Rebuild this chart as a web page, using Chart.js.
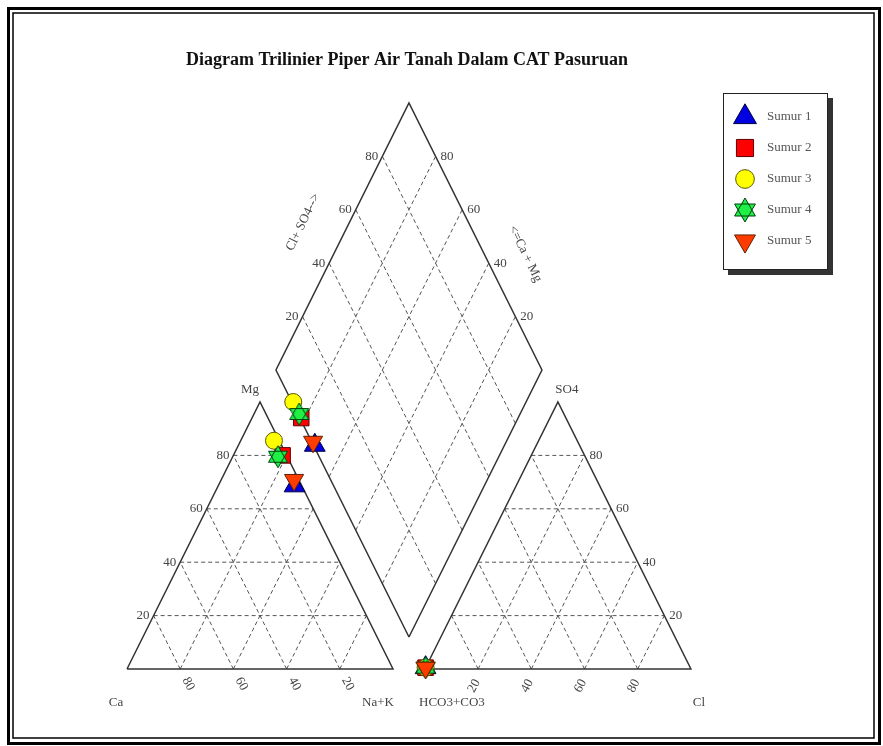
<!DOCTYPE html>
<html>
<head>
<meta charset="utf-8">
<script src="https://cdn.jsdelivr.net/npm/chart.js@4.4.1/dist/chart.umd.min.js"></script>
<style>
    html, body { margin: 0; padding: 0; background: #fff; }
    canvas { display: block; }
</style>
</head>
<body>
<canvas id="piper" width="883" height="746"></canvas>
<script>
    // sample wells, percent meq/L
    const wells = ["Sumur 1", "Sumur 2", "Sumur 3", "Sumur 4", "Sumur 5"];
    const ca = [2.7, 1.5, 2.0, 3.5, 1.8];
    const mg = [68.6, 80.0, 85.5, 79.5, 70.8];
    const naK = [28.7, 18.5, 12.5, 17.0, 27.4];
    const hco3 = [99.5, 99.5, 99.5, 99.5, 99.5];
    const so4 = [0.5, 0.5, 0.5, 0.5, 0.5];
    const cl = [0, 0, 0, 0, 0];
    const ticks = [20, 40, 60, 80];

    const fills = ["#0000e0", "#ff0000", "#ffff00", "#1ef046", "#ff3c00"];
    const strokes = ["#000040", "#600000", "#5a5a00", "#004010", "#602000"];

    const GAP = 12;

    const makeStar = (size, fill, stroke) => {
        const c = document.createElement("canvas");
        c.width = size;
        c.height = size;
        const g = c.getContext("2d");
        const r = size / 2 - 1;
        const cx = size / 2;
        const cy = size / 2;
        const tri = (a0) => {
            g.beginPath();
            for (let k = 0; k < 3; k++) {
                const a = a0 + k * 2 * Math.PI / 3;
                const px = cx + Math.sin(a) * r;
                const py = cy - Math.cos(a) * r;
                k === 0 ? g.moveTo(px, py) : g.lineTo(px, py);
            }
            g.closePath();
        };
        g.fillStyle = fill;
        tri(0); g.fill();
        tri(Math.PI); g.fill();
        g.strokeStyle = stroke;
        g.lineWidth = 1;
        tri(0); g.stroke();
        tri(Math.PI); g.stroke();
        return c;
    };

    const styles = ["triangle", "rect", "circle", makeStar(24, fills[3], strokes[3]), "triangle"];
    const legendStyles = ["triangle", "rect", "circle", makeStar(26, fills[3], strokes[3]), "triangle"];
    const rotations = [0, 0, 0, 0, 180];
    const radii = [12, 11, 8.5, 10, 11];

    // ternary -> plane, triangle side = 100, heights in percent of triangle height
    const tern = (right, top, offset) => ({ x: offset + right + top / 2, y: top });
    const cationXY = (i) => {
        const s = ca[i] + mg[i] + naK[i];
        return tern(naK[i] / s * 100, mg[i] / s * 100, 0);
    };
    const anionXY = (i) => {
        const s = hco3[i] + so4[i] + cl[i];
        return tern(cl[i] / s * 100, so4[i] / s * 100, 100 + GAP);
    };
    const diamond = (u, w) => ({ x: 100 + GAP / 2 - u / 2 + w / 2, y: GAP + u + w });
    const diamondXY = (i) => {
        const sc = ca[i] + mg[i] + naK[i];
        const sa = hco3[i] + so4[i] + cl[i];
        return diamond((ca[i] + mg[i]) / sc * 100, (cl[i] + so4[i]) / sa * 100);
    };

    const segments = [];
    const outlines = [];
    [0, 100 + GAP].forEach(off => {
        outlines.push([tern(0, 0, off), tern(100, 0, off), tern(0, 100, off), tern(0, 0, off)]);
        ticks.forEach(v => {
            segments.push([tern(0, v, off), tern(100 - v, v, off)]);
            segments.push([tern(v, 0, off), tern(v, 100 - v, off)]);
            segments.push([tern(100 - v, 0, off), tern(0, 100 - v, off)]);
        });
    });
    outlines.push([diamond(0, 0), diamond(100, 0), diamond(100, 100), diamond(0, 100), diamond(0, 0)]);
    ticks.forEach(v => {
        segments.push([diamond(v, 0), diamond(v, 100)]);
        segments.push([diamond(0, v), diamond(100, v)]);
    });

    const datasets = [];
    segments.forEach(seg => datasets.push({
        data: seg, showLine: true, pointRadius: 0, borderColor: "#555",
        borderWidth: 1, borderDash: [4, 3], order: 20
    }));
    outlines.forEach(poly => datasets.push({
        data: poly, showLine: true, pointRadius: 0, borderColor: "#333",
        borderWidth: 1.5, order: 15
    }));
    wells.forEach((name, i) => datasets.push({
        label: name,
        data: [cationXY(i), anionXY(i), diamondXY(i)],
        showLine: false,
        pointStyle: styles[i],
        rotation: rotations[i],
        pointRadius: radii[i],
        backgroundColor: fills[i],
        borderColor: strokes[i],
        borderWidth: 1,
        order: 10 - i
    }));

    const text = (ctx, s, x, y, align, angle) => {
        ctx.save();
        ctx.translate(x, y);
        if (angle) {
            ctx.rotate(angle * Math.PI / 180);
        }
        ctx.textAlign = align || "center";
        ctx.textBaseline = "middle";
        ctx.fillText(s, 0, 0);
        ctx.restore();
    };

    const piperText = {
        id: "piperText",
        beforeDraw(chart) {
            const ctx = chart.ctx;
            ctx.save();
            ctx.fillStyle = "#fff";
            ctx.fillRect(0, 0, chart.width, chart.height);
            ctx.strokeStyle = "#000";
            ctx.lineWidth = 3;
            ctx.strokeRect(8.5, 8.5, 871, 735);
            ctx.lineWidth = 1.5;
            ctx.strokeRect(13, 13, 861, 725);
            ctx.restore();
        },
        afterDraw(chart) {
            const ctx = chart.ctx;
            const sx = chart.scales.x;
            const sy = chart.scales.y;
            const p = (pt) => [sx.getPixelForValue(pt.x), sy.getPixelForValue(pt.y)];
            ctx.save();

            ctx.fillStyle = "#111";
            ctx.font = "bold 18px 'Liberation Serif', serif";
            text(ctx, "Diagram Trilinier Piper Air Tanah Dalam CAT Pasuruan", 407, 60);

            ctx.fillStyle = "#444";
            ctx.font = "13px 'Liberation Serif', serif";
            ticks.forEach(v => {
                let q = p(tern(0, v, 0));
                text(ctx, String(v), q[0] - 4, q[1], "right");
                q = p(tern(100 - v, 0, 0));
                text(ctx, String(v), q[0] + 8, q[1] + 15, "center", 62);
                q = p(tern(100 - v, v, 100 + GAP));
                text(ctx, String(v), q[0] + 5, q[1], "left");
                q = p(tern(v, 0, 100 + GAP));
                text(ctx, String(v), q[0] - 4, q[1] + 17, "center", -62);
                q = p(diamond(100, v));
                text(ctx, String(v), q[0] - 4, q[1], "right");
                q = p(diamond(v, 100));
                text(ctx, String(v), q[0] + 5, q[1], "left");
            });

            let q = p(tern(0, 0, 0));
            text(ctx, "Ca", q[0] - 11, q[1] + 34);
            q = p(tern(100, 0, 0));
            text(ctx, "Na+K", q[0] - 15, q[1] + 34);
            q = p(tern(0, 100, 0));
            text(ctx, "Mg", q[0] - 10, q[1] - 12);
            q = p(tern(0, 0, 100 + GAP));
            text(ctx, "HCO3+CO3", q[0] + 27, q[1] + 34);
            q = p(tern(100, 0, 100 + GAP));
            text(ctx, "Cl", q[0] + 8, q[1] + 34);
            q = p(tern(0, 100, 100 + GAP));
            text(ctx, "SO4", q[0] + 9, q[1] - 12);

            q = p(diamond(100, 55));
            text(ctx, "Cl+ SO4-->", q[0] - 46, q[1] - 1, "center", -64);
            q = p(diamond(45, 100));
            text(ctx, "<=Ca + Mg", q[0] + 43, q[1] + 4, "center", 64);

            // legend box
            ctx.fillStyle = "#333";
            ctx.fillRect(728, 98, 105, 177);
            ctx.fillStyle = "#fff";
            ctx.fillRect(723, 93, 105, 177);
            ctx.strokeStyle = "#222";
            ctx.lineWidth = 1;
            ctx.strokeRect(723.5, 93.5, 104, 176);
            wells.forEach((name, i) => {
                const y = 117 + i * 31;
                ctx.fillStyle = fills[i];
                ctx.strokeStyle = strokes[i];
                ctx.lineWidth = 1;
                Chart.helpers.drawPoint(ctx, {
                    pointStyle: legendStyles[i], rotation: rotations[i],
                    radius: radii[i] * 1.1, borderWidth: 1
                }, 745, y);
                ctx.fillStyle = "#555";
                ctx.font = "13px 'Liberation Serif', serif";
                text(ctx, name, 767, y, "left");
            });
            ctx.restore();
        }
    };

    new Chart(document.getElementById("piper"), {
        type: "scatter",
        data: { datasets },
        options: {
            responsive: false,
            animation: false,
            devicePixelRatio: 1,
            layout: { padding: 0, autoPadding: false },
            plugins: {
                legend: { display: false },
                tooltip: { enabled: false }
            },
            scales: {
                x: { type: "linear", min: -127 / 2.66, max: -127 / 2.66 + 883 / 2.66, display: false },
                y: { type: "linear", min: 669 / 2.67 - 746 / 2.67, max: 669 / 2.67, display: false }
            }
        },
        plugins: [piperText]
    });
</script>
</body>
</html>
